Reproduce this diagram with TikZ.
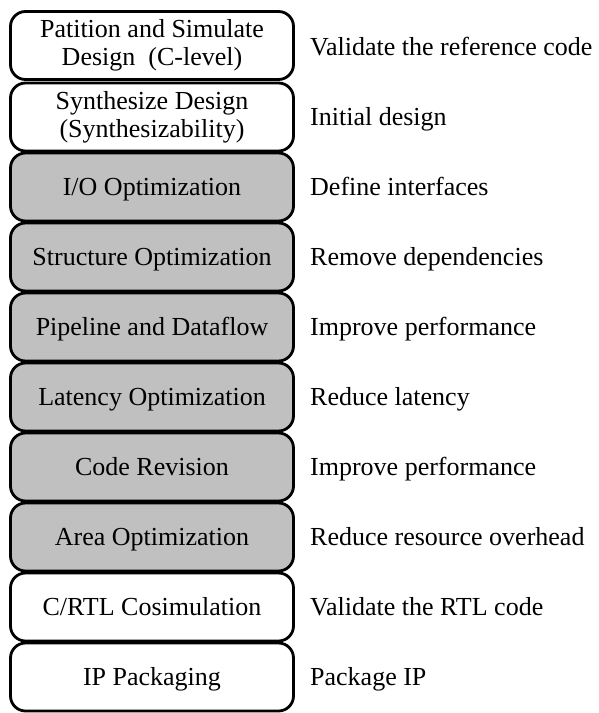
\documentclass[tikz,border=0pt]{standalone}
\usepackage{fontspec}
\setmainfont{Liberation Serif}
\definecolor{shade}{RGB}{192,192,192}
\begin{document}
\begin{tikzpicture}[x=1pt,y=-1pt,
  stage/.style={draw, line width=2.8pt, rounded corners=15pt,
    minimum width=283pt, minimum height=68pt, align=center, inner sep=0pt,
    font=\fontsize{26}{28}\selectfont},
  single/.style={text height=17pt, text depth=0pt},
  plain/.style={stage, fill=white},
  opt/.style={stage, fill=shade, single},
  note/.style={anchor=base west, inner sep=0pt, font=\fontsize{26}{28}\selectfont}]

\useasboundingbox (0,0) rectangle (598,713);

% flow of stages, top to bottom
\node[plain] (s1)  at (152,45.5) {Patition and Simulate\\Design\ \ (C-level)};
\node[plain] (s2)  at (152,117)  {Synthesize Design\\(Synthesizability)};
\node[opt]   (s3)  at (152,187)  {I/O Optimization};
\node[opt]   (s4)  at (152,257)  {Structure Optimization};
\node[opt]   (s5)  at (152,327)  {Pipeline and Dataflow};
\node[opt]   (s6)  at (152,397)  {Latency Optimization};
\node[opt]   (s7)  at (152,467)  {Code Revision};
\node[opt]   (s8)  at (152,537)  {Area Optimization};
\node[plain, single] (s9)  at (152,607) {C/RTL Cosimulation};
\node[plain, single] (s10) at (152,677) {IP Packaging};

% purpose of each stage
\node[note] (n1)  at (310,55.5)  {Validate the reference code};
\node[note] (n2)  at (310,125.5) {Initial design};
\node[note] (n3)  at (310,195.5) {Define interfaces};
\node[note] (n4)  at (310,265.5) {Remove dependencies};
\node[note] (n5)  at (310,335.5) {Improve performance};
\node[note] (n6)  at (310,405.5) {Reduce latency};
\node[note] (n7)  at (310,475.5) {Improve performance};
\node[note] (n8)  at (310,545.5) {Reduce resource overhead};
\node[note] (n9)  at (310,615.5) {Validate the RTL code};
\node[note] (n10) at (310,685.5) {Package IP};
\end{tikzpicture}
\end{document}
